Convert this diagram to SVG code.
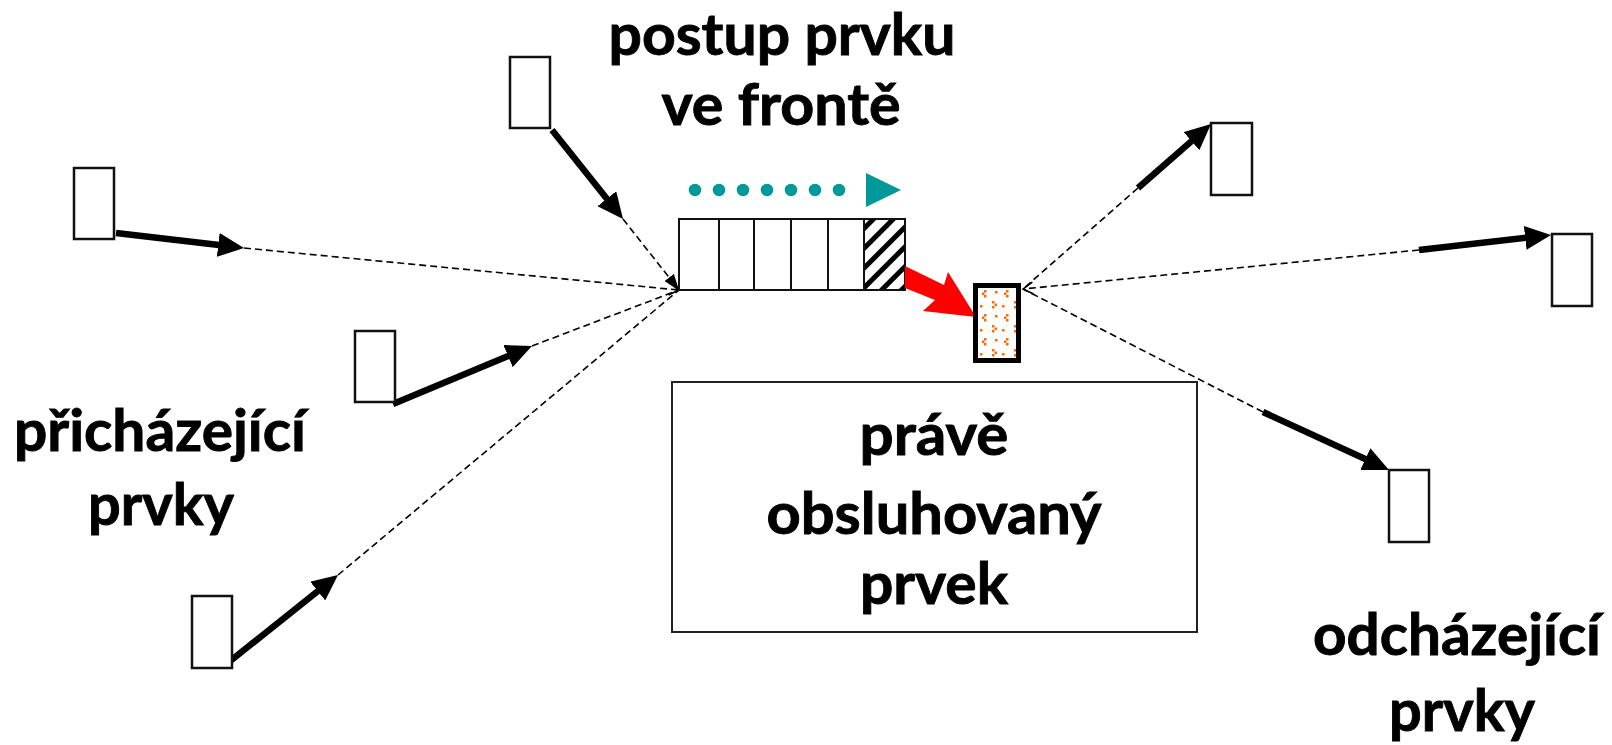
<svg xmlns="http://www.w3.org/2000/svg" width="1612" height="745" viewBox="0 0 1612 745">
  <defs>
    <style>
      .item { fill: #fff; stroke: #111; stroke-width: 2.5; }
      .label { font-family: Lato, "Liberation Sans", sans-serif; font-weight: 700; font-size: 58px; fill: #000; stroke: #000; stroke-width: 0.9; }
      .move { stroke: #000; stroke-width: 6.5; fill: none; marker-end: url(#head); }
      .trace { stroke: #000; stroke-width: 1.6; stroke-dasharray: 7 4; fill: none; }
      .cell { fill: #fff; stroke: #111; stroke-width: 2; }
    </style>
    <marker id="head" markerUnits="userSpaceOnUse" viewBox="0 0 26 24" markerWidth="26" markerHeight="24" refX="16" refY="12" orient="auto">
      <path d="M0,0 L26,12 L0,24 z" fill="#000"/>
    </marker>
    <marker id="tipFilled" markerUnits="userSpaceOnUse" viewBox="0 0 16 12" markerWidth="16" markerHeight="12" refX="16" refY="6" orient="auto">
      <path d="M0,0 L16,6 L0,12 z" fill="#000"/>
    </marker>
    <marker id="tipOpen" markerUnits="userSpaceOnUse" viewBox="-1 -1 12 14" markerWidth="12" markerHeight="14" refX="10" refY="6" orient="auto">
      <path d="M0,0 L10,6 L0,12" fill="none" stroke="#000" stroke-width="1.6"/>
    </marker>
    <pattern id="hatch" patternUnits="userSpaceOnUse" width="14" height="14" patternTransform="rotate(45)">
      <rect x="0" y="0" width="14" height="14" fill="#fff"/>
      <rect x="0" y="0" width="5" height="14" fill="#000"/>
    </pattern>
    <pattern id="confetti" patternUnits="userSpaceOnUse" x="978" y="288" width="22" height="24">
      <rect width="22" height="24" fill="#fff"/>
      <g fill="#ff6a00">
        <rect x="6" y="2" width="2.5" height="2.5"/>
        <rect x="4" y="4.5" width="2.5" height="2.5"/>
        <rect x="6" y="7" width="2.5" height="2.5"/>
        <rect x="14" y="13" width="2.5" height="2.5"/>
        <rect x="16.5" y="15.5" width="2.5" height="2.5"/>
        <rect x="14" y="18" width="2.5" height="2.5"/>
        <rect x="17" y="3" width="2.5" height="2.5"/>
        <rect x="2" y="17" width="2.5" height="2.5"/>
      </g>
    </pattern>
  </defs>

  <rect width="1612" height="745" fill="#fff"/>

  <!-- connectors: thick moves and dashed paths towards queue / away from server -->
  <g id="connectors">
    <line class="trace" x1="244" y1="248" x2="679" y2="290" marker-end="url(#tipOpen)"/>
    <line class="trace" x1="623" y1="219" x2="679" y2="290" marker-end="url(#tipFilled)"/>
    <line class="trace" x1="532" y1="346" x2="679" y2="290"/>
    <line class="trace" x1="338" y1="575" x2="679" y2="290"/>
    <line class="trace" x1="1138" y1="188" x2="1023" y2="289"/>
    <line class="trace" x1="1419" y1="250" x2="1023" y2="289" marker-end="url(#tipOpen)"/>
    <line class="trace" x1="1263" y1="412" x2="1023" y2="289"/>

    <line class="move" x1="116" y1="233" x2="234.1" y2="246.8"/>
    <line class="move" x1="552" y1="130" x2="616.8" y2="211.2"/>
    <line class="move" x1="393" y1="404" x2="522.8" y2="349.9"/>
    <line class="move" x1="229" y1="662" x2="330.2" y2="581.2"/>
    <line class="move" x1="1138" y1="188" x2="1203.5" y2="130.6"/>
    <line class="move" x1="1419" y1="250" x2="1541.1" y2="236.1"/>
    <line class="move" x1="1263" y1="412" x2="1379.9" y2="465.8"/>
  </g>

  <!-- arriving items -->
  <g id="in-1"><rect class="item" x="74" y="168" width="40" height="71"/></g>
  <g id="in-2"><rect class="item" x="510" y="57" width="40" height="71"/></g>
  <g id="in-3"><rect class="item" x="355" y="331" width="40" height="71"/></g>
  <g id="in-4"><rect class="item" x="192" y="596" width="40" height="72"/></g>

  <!-- departing items -->
  <g id="out-1"><rect class="item" x="1211" y="123" width="41" height="72"/></g>
  <g id="out-2"><rect class="item" x="1552" y="234" width="40" height="72"/></g>
  <g id="out-3"><rect class="item" x="1389" y="470" width="40" height="72"/></g>

  <!-- queue progress arrow (teal dots) -->
  <g id="progress">
    <line x1="695" y1="190" x2="863" y2="190" stroke="#009999" stroke-width="12.5" stroke-linecap="round" stroke-dasharray="0 24"/>
    <path d="M866,173 L901,190 L866,207 z" fill="#009999"/>
  </g>

  <!-- queue -->
  <g id="queue">
    <rect class="cell" x="679" y="219" width="40" height="71"/>
    <rect class="cell" x="719" y="219" width="35" height="71"/>
    <rect class="cell" x="754" y="219" width="37" height="71"/>
    <rect class="cell" x="791" y="219" width="37" height="71"/>
    <rect class="cell" x="828" y="219" width="36" height="71"/>
    <rect x="864" y="219" width="41" height="71" fill="url(#hatch)" stroke="#111" stroke-width="2"/>
  </g>

  <!-- hand-over to server -->
  <g id="to-server">
    <path d="M905,266 L944,285 L948,272 L976,317 L923,311 L935,300 L905,288 z" fill="#ff0000"/>
  </g>

  <!-- server -->
  <g id="server">
    <rect x="975.5" y="285.5" width="43" height="75" fill="url(#confetti)" stroke="#000" stroke-width="5"/>
  </g>

  <!-- server caption box -->
  <g id="served-box">
    <rect x="672" y="382" width="525" height="250" fill="#fff" stroke="#222" stroke-width="2"/>
    <text class="label" x="859.5" y="455" textLength="149" lengthAdjust="spacingAndGlyphs">právě</text>
    <text class="label" x="766.5" y="534" textLength="335" lengthAdjust="spacingAndGlyphs">obsluhovaný</text>
    <text class="label" x="860" y="604" textLength="148" lengthAdjust="spacingAndGlyphs">prvek</text>
  </g>

  <g id="caption-progress">
    <text class="label" x="608.5" y="55" textLength="347" lengthAdjust="spacingAndGlyphs">postup prvku</text>
    <text class="label" x="661.5" y="125" textLength="239" lengthAdjust="spacingAndGlyphs">ve frontě</text>
  </g>

  <g id="caption-arriving">
    <text class="label" x="14" y="451" textLength="292" lengthAdjust="spacingAndGlyphs">přicházející</text>
    <text class="label" x="88" y="525" textLength="146" lengthAdjust="spacingAndGlyphs">prvky</text>
  </g>

  <g id="caption-departing">
    <text class="label" x="1313" y="655" textLength="288" lengthAdjust="spacingAndGlyphs">odcházející</text>
    <text class="label" x="1389" y="731" textLength="146" lengthAdjust="spacingAndGlyphs">prvky</text>
  </g>
</svg>
